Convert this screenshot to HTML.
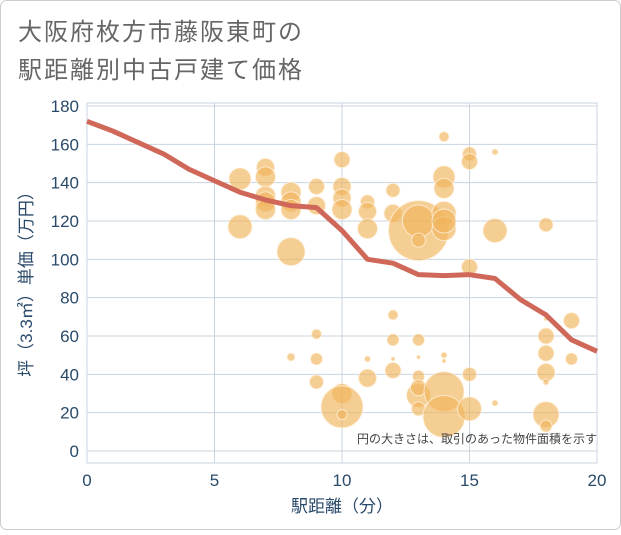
<!DOCTYPE html>
<html><head><meta charset="utf-8"><style>
body{margin:0;background:#fff;}
svg text{font-family:"Liberation Sans","Noto Sans CJK JP",sans-serif;}
</style></head><body>
<svg width="621" height="530" xmlns="http://www.w3.org/2000/svg">
<rect x="0.5" y="0.5" width="620" height="529" rx="6" fill="#fff" stroke="#ccc"/>
<text x="18" y="40" font-size="24" letter-spacing="2" fill="#666">大阪府枚方市藤阪東町の</text>
<text x="18" y="78" font-size="24" letter-spacing="2" fill="#666">駅距離別中古戸建て価格</text>
<g id="grid"></g>
<g id="bubbles"></g>
<path id="trend" fill="none" stroke="#d0685a" stroke-width="5" stroke-linejoin="round"/>
<g id="axes"></g>
<text x="597" y="443" font-size="12" fill="#444" text-anchor="end">円の大きさは、取引のあった物件面積を示す</text>
<text x="342" y="512" font-size="17" fill="#2a4a6a" text-anchor="middle">駅距離（分）</text>
<text transform="translate(32,280) rotate(-90)" font-size="17" fill="#2a4a6a" text-anchor="middle">坪（3.3㎡）単価（万円）</text>
</svg>
<script>
const xTicks=[0,5,10,15,20];
const yTicks=[0,20,40,60,80,100,120,140,160,180];
const trendX=[0,1,2,3,4,5,6,7,8,9,10,11,12,13,14,15,16,17,18,19,20];
const trendY=[172,167,161,155,147,141,135,131,128,127,115,100,98,92,91.5,92,90,79,71,58,52];
const bubX=[6,6,7,7,7,7,7,8,8,8,8,8,9,9,9,9,9,10,10,10,10,10,10,10,11,11,11,11,11,12,12,12,12,12,12,13,13,13,13,13,13,13,13,13,14,14,14,14,14,14,14,14,14,14,15,15,15,15,15,16,16,16,18,18,18,18,18,18,18,18,19,19];
const bubY=[142,117,148,143,133,130,126,135,130,126,104,49,138,128,61,48,36,152,138,132,126,30,23,19,130,125,116,48,38,136,124,71,58,42,48,115,120,110,58,49,39,29,22,33,164,143,137,124,116,120,47,50,31,18,155,151,96,40,22,156,25,115,118,69,60,51,41,36,19,13,68,48];
const bubR=[11,12,9,10,10,10,10,10,10,10,14,4,8,9,5,6,7,8,9,9,10,10,21,5,7,9,10,3,9,7,9,5,6,8,2,30,16,7,6,2,6,12,7,8,5,11,10,12,12,12,2,3,20,21,7,8,8,7,12,3,3,12,7,2,8,8,9,3,13,6,8,6];
const NS="http://www.w3.org/2000/svg";
const L=87,R=597,T=106,B=451;
const sx=v=>L+(v-0)/(20-0)*(R-L);
const sy=v=>B-(v-0)/(180-0)*(B-T);
const grid=document.getElementById('grid'),axes=document.getElementById('axes'),bub=document.getElementById('bubbles');
function mk(tag,attrs,parent){const e=document.createElementNS(NS,tag);for(const k in attrs)e.setAttribute(k,attrs[k]);parent.appendChild(e);return e;}
const pb=mk('rect',{x:L,y:T-3,width:R-L,height:B-T+15,fill:'none',stroke:'#c8d4e0'},grid);


yTicks.forEach(v=>{
 const l=mk('line',{x1:L,x2:R,y1:sy(v),y2:sy(v),stroke:'#c8d4e0','stroke-width':1},grid);
 
 
 const t=mk('text',{x:L-8,y:sy(v)+6,'font-size':17,fill:'#2a4a6a','text-anchor':'end'},axes);
 t.textContent=v;
 
 
});
xTicks.forEach(v=>{
 const l=mk('line',{x1:sx(v),x2:sx(v),y1:T-3,y2:B+12,stroke:'#c8d4e0','stroke-width':1},grid);
 
 
 const t=mk('text',{x:sx(v),y:B+35,'font-size':17,fill:'#2a4a6a','text-anchor':'middle'},axes);
 t.textContent=v;
 
 
});
bubX.forEach((x,i)=>{
 const c=mk('circle',{cx:sx(x),cy:sy(bubY[i]),r:bubR[i],fill:'rgba(240,180,90,0.65)',stroke:'rgba(255,240,220,0.8)','stroke-width':1},bub);
 
 
});
document.getElementById('trend').setAttribute('d',trendX.map((x,i)=>(i?'L':'M')+sx(x)+','+sy(trendY[i])).join(''));
</script>
</body></html>
